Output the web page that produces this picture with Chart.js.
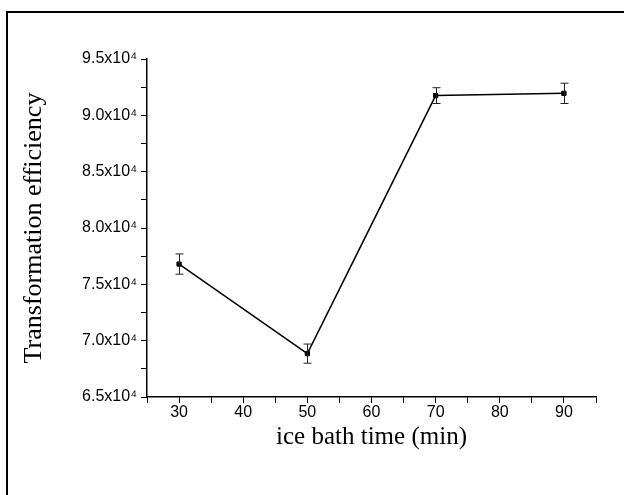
<!DOCTYPE html>
<html>
<head>
<meta charset="utf-8">
<script src="https://cdn.jsdelivr.net/npm/chart.js@4"></script>
<style>
  html, body { margin: 0; padding: 0; background: #fff; overflow: hidden; }
  #wrap { position: relative; width: 624px; height: 495px; }
  #frame {
    position: absolute; left: 6px; top: 11px;
    width: 700px; height: 600px;
    border: 2px solid #000;
  }
  canvas { position: absolute; left: 0; top: 0; }
</style>
</head>
<body>
<div id="wrap">
  <div id="frame"></div>
  <canvas id="teChart" width="624" height="495"></canvas>
</div>
<script>
// ice bath time (min)
const times = [30, 50, 70, 90];
// transformation efficiency
const efficiency = [76800, 68850, 91750, 91950];
// error bar half-heights
const errors = [900, 850, 700, 900];
// labelled y ticks
const yTickLabels = {
  65000: "6.5x10⁴", 70000: "7.0x10⁴", 75000: "7.5x10⁴", 80000: "8.0x10⁴",
  85000: "8.5x10⁴", 90000: "9.0x10⁴", 95000: "9.5x10⁴"
};

const serif = "'Liberation Serif', 'Times New Roman', serif";
const sans = "'Liberation Sans', Arial, sans-serif";

// simple error bar drawing, positions from the scales
const errorBars = {
  id: "errorBars",
  afterDatasetsDraw(chart) {
    const { ctx, scales: { x, y } } = chart;
    ctx.save();
    ctx.strokeStyle = "#222";
    ctx.lineWidth = 1;
    times.forEach((t, i) => {
      const px = Math.round(x.getPixelForValue(t)) + 0.5;
      const top = y.getPixelForValue(efficiency[i] + errors[i]);
      const bot = y.getPixelForValue(efficiency[i] - errors[i]);
      ctx.beginPath();
      ctx.moveTo(px, top);
      ctx.lineTo(px, bot);
      ctx.moveTo(px - 4, top);
      ctx.lineTo(px + 4, top);
      ctx.moveTo(px - 4, bot);
      ctx.lineTo(px + 4, bot);
      ctx.stroke();
    });
    ctx.restore();
  }
};

const ctx = document.getElementById("teChart").getContext("2d");
new Chart(ctx, {
  type: "line",
  data: {
    datasets: [{
      data: times.map((t, i) => ({ x: t, y: efficiency[i] })),
      borderColor: "#000",
      borderWidth: 1.5,
      backgroundColor: "#000",
      pointStyle: "rect",
      pointRadius: 3,
      pointBorderWidth: 1,
      pointBorderColor: "#000",
      tension: 0,
      fill: false
    }]
  },
  options: {
    responsive: false,
    animation: false,
    events: [],
    layout: { padding: { top: 59, right: 28, bottom: 0, left: 0 } },
    plugins: { legend: { display: false }, tooltip: { enabled: false } },
    scales: {
      x: {
        type: "linear",
        min: 25,
        max: 95,
        afterFit: s => { s.height = 98; },
        border: { display: true, color: "#000", width: 1.5 },
        grid: { drawOnChartArea: false, drawTicks: true, tickLength: 6, color: "#000", tickWidth: 1 },
        ticks: {
          stepSize: 5,
          autoSkip: false,
          maxRotation: 0,
          padding: 0,
          color: "#000",
          font: { family: sans, size: 16 },
          callback: v => (v % 10 === 0 ? String(v) : "")
        },
        title: {
          display: true,
          text: "ice bath time (min)",
          color: "#000",
          font: { family: serif, size: 25 },
          padding: { top: 0, bottom: 43 }
        }
      },
      y: {
        type: "linear",
        min: 65000,
        max: 95000,
        afterFit: s => { s.width = 147; },
        border: { display: true, color: "#000", width: 1.5 },
        grid: { drawOnChartArea: false, drawTicks: true, tickLength: 6, color: "#000", tickWidth: 1 },
        ticks: {
          stepSize: 2500,
          autoSkip: false,
          padding: 4,
          color: "#000",
          font: { family: sans, size: 16 },
          callback: v => yTickLabels[v] || ""
        },
        title: {
          display: true,
          text: "Transformation efficiency",
          color: "#000",
          font: { family: serif, size: 26 },
          padding: { top: 19, bottom: 0 }
        }
      }
    }
  },
  plugins: [errorBars]
});
</script>
</body>
</html>
